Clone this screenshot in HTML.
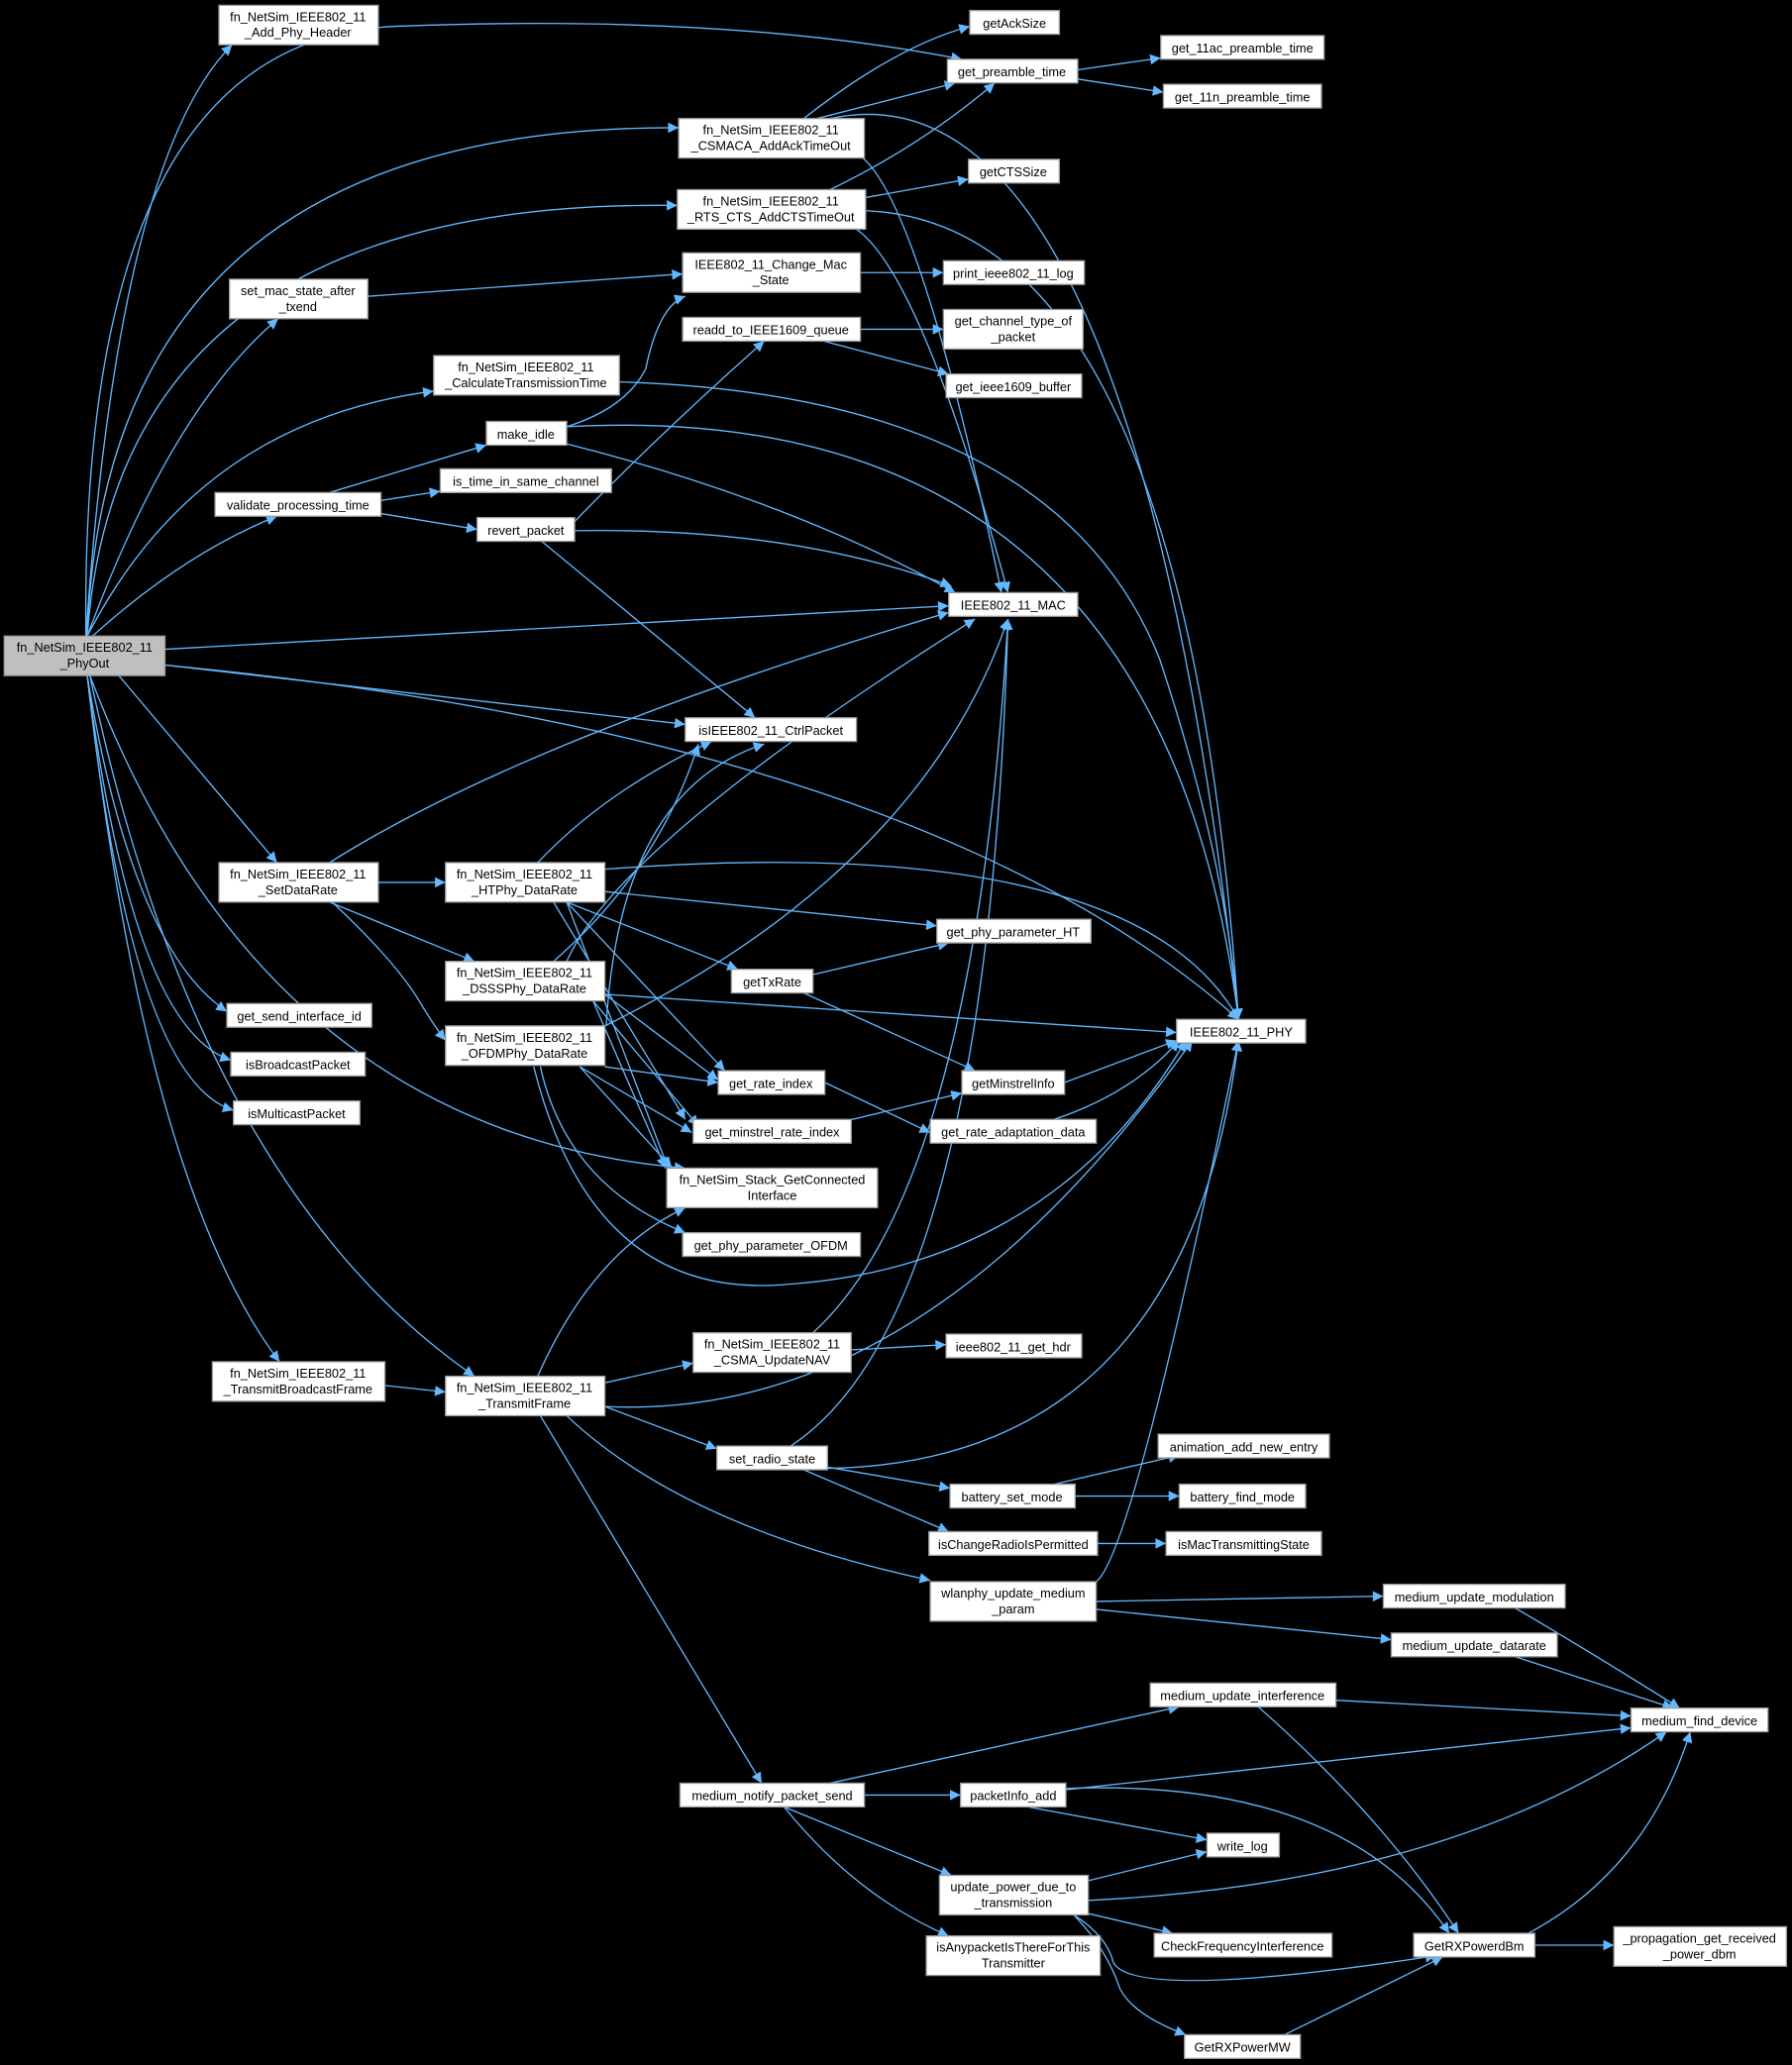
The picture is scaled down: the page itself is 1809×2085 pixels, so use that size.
<!DOCTYPE html>
<html><head><meta charset="utf-8"><style>
html,body{margin:0;padding:0;background:#000;}
svg{display:block}
text{font-family:"Liberation Sans Narrow","Liberation Sans",sans-serif;font-size:9.6px;fill:#000;text-anchor:middle}
.n rect{fill:#fff;stroke:#999;stroke-width:1}
.e path{fill:none;stroke:#63b8ff;stroke-width:1;marker-end:url(#a)}
</style></head><body>
<svg width="1809" height="2085" viewBox="0 0 1360 1568" xmlns="http://www.w3.org/2000/svg">
<defs><marker id="a" viewBox="0 0 10 10" refX="10" refY="5" markerWidth="10" markerHeight="8" markerUnits="userSpaceOnUse" orient="auto"><path d="M0,0L10,5L0,10z" fill="#63b8ff"/></marker></defs>
<rect width="1360" height="1568" fill="#000"/>
<g class="e">
<path d="M65,483 Q90,120 176,34"/>
<path d="M65,483 Q60,30 300,20 Q550,10 730,45"/>
<path d="M66,483 Q80,95 515,97"/>
<path d="M66,483 Q90,150 514,156"/>
<path d="M66,483 Q130,310 211,242"/>
<path d="M66,483 Q150,320 329,297"/>
<path d="M70,483 Q140,420 210,392"/>
<path d="M125,493 L720,460"/>
<path d="M125,505 L520,550"/>
<path d="M125,505 Q700,560 940,774"/>
<path d="M90,513 L210,655"/>
<path d="M66,513 Q100,720 172,768"/>
<path d="M66,513 Q100,780 175,805"/>
<path d="M66,513 Q100,820 177,843"/>
<path d="M68,513 Q200,860 520,887"/>
<path d="M66,513 Q110,900 212,1034"/>
<path d="M68,513 Q150,900 360,1045"/>
<path d="M610,90 Q680,35 736,20"/>
<path d="M620,90 L725,63"/>
<path d="M818,53 L881,44"/>
<path d="M818,60 L883,70"/>
<path d="M630,90 Q860,40 940,774"/>
<path d="M655,120 Q700,160 760,450"/>
<path d="M630,144 Q700,110 755,63"/>
<path d="M657,150 L735,136"/>
<path d="M657,160 Q900,170 940,774"/>
<path d="M650,174 Q700,210 765,450"/>
<path d="M279,225 L518,208"/>
<path d="M653,207 L716,207"/>
<path d="M653,250 L716,250"/>
<path d="M625,259 L720,284"/>
<path d="M470,290 Q800,300 880,500 Q930,650 940,774"/>
<path d="M250,374 L369,338"/>
<path d="M289,380 L334,373"/>
<path d="M289,390 L362,402"/>
<path d="M430,324 Q475,310 490,280 Q500,232 520,225"/>
<path d="M430,337 Q600,380 725,450"/>
<path d="M430,324 Q880,300 940,774"/>
<path d="M436,396 Q500,330 580,259"/>
<path d="M436,403 Q600,400 722,445"/>
<path d="M411,411 L573,545"/>
<path d="M287,670 L338,670"/>
<path d="M250,655 Q400,560 720,465"/>
<path d="M250,685 L360,730"/>
<path d="M252,685 Q300,730 318,760 Q330,780 338,790"/>
<path d="M408,655 Q460,600 540,563"/>
<path d="M459,660 Q860,630 940,774"/>
<path d="M459,677 L711,703"/>
<path d="M430,685 L560,736"/>
<path d="M430,685 L550,813"/>
<path d="M430,685 L507,887"/>
<path d="M420,685 L520,850"/>
<path d="M617,740 L720,716"/>
<path d="M610,754 L740,813"/>
<path d="M430,730 Q470,640 740,470"/>
<path d="M420,730 Q500,660 530,565"/>
<path d="M459,755 L893,784"/>
<path d="M459,755 L545,820"/>
<path d="M450,760 L505,887"/>
<path d="M450,760 L530,855"/>
<path d="M459,779 Q700,660 765,470"/>
<path d="M460,779 Q470,600 580,565"/>
<path d="M459,810 L545,822"/>
<path d="M440,810 L510,887"/>
<path d="M440,810 L525,860"/>
<path d="M410,810 Q430,900 520,936"/>
<path d="M405,810 Q450,990 600,975 Q800,960 900,790"/>
<path d="M808,822 L893,790"/>
<path d="M626,822 L706,860"/>
<path d="M626,855 L730,830"/>
<path d="M800,850 Q860,830 895,790"/>
<path d="M292,1052 L338,1057"/>
<path d="M408,1045 Q450,950 520,917"/>
<path d="M459,1050 L526,1035"/>
<path d="M459,1068 Q700,1080 905,790"/>
<path d="M459,1068 L544,1100"/>
<path d="M430,1075 Q520,1160 706,1200"/>
<path d="M410,1075 L578,1354"/>
<path d="M617,1012 Q740,900 765,470"/>
<path d="M646,1025 L718,1021"/>
<path d="M600,1098 Q750,1000 765,470"/>
<path d="M628,1115 Q900,1110 940,790"/>
<path d="M628,1114 L721,1130"/>
<path d="M610,1116 L720,1163"/>
<path d="M800,1127 L895,1105"/>
<path d="M816,1136 L895,1136"/>
<path d="M833,1172 L885,1172"/>
<path d="M832,1201 Q860,1180 940,790"/>
<path d="M832,1216 L1050,1212"/>
<path d="M832,1222 L1056,1245"/>
<path d="M1150,1221 Q1200,1250 1275,1297"/>
<path d="M1150,1258 L1270,1297"/>
<path d="M1014,1291 L1238,1303"/>
<path d="M955,1296 Q1050,1380 1107,1468"/>
<path d="M630,1354 L895,1296"/>
<path d="M656,1363 L729,1363"/>
<path d="M595,1372 L722,1424"/>
<path d="M595,1372 Q650,1440 720,1470"/>
<path d="M809,1359 L1238,1312"/>
<path d="M780,1372 L916,1397"/>
<path d="M809,1358 Q1020,1350 1100,1468"/>
<path d="M826,1428 L916,1406"/>
<path d="M826,1443 Q1100,1430 1265,1315"/>
<path d="M826,1453 L890,1468"/>
<path d="M815,1454 Q840,1470 845,1490 Q860,1520 1090,1485"/>
<path d="M815,1454 Q840,1480 850,1510 Q860,1530 900,1545"/>
<path d="M975,1545 L1095,1486"/>
<path d="M1160,1468 Q1250,1420 1283,1315"/>
<path d="M1165,1477 L1225,1477"/>
</g>
<g class="n">
<rect x="3" y="483" width="122" height="30" style="fill:#bfbfbf"/><text x="64" y="495">fn_NetSim_IEEE802_11</text><text x="64" y="507">_PhyOut</text>
<rect x="166" y="4" width="121" height="30"/><text x="226" y="16">fn_NetSim_IEEE802_11</text><text x="226" y="28">_Add_Phy_Header</text>
<rect x="736" y="8" width="68" height="18"/><text x="770" y="21">getAckSize</text>
<rect x="719" y="45" width="99" height="18"/><text x="768" y="58">get_preamble_time</text>
<rect x="881" y="27" width="124" height="18"/><text x="943" y="40">get_11ac_preamble_time</text>
<rect x="883" y="64" width="120" height="18"/><text x="943" y="77">get_11n_preamble_time</text>
<rect x="515" y="90" width="141" height="30"/><text x="585" y="102">fn_NetSim_IEEE802_11</text><text x="585" y="114">_CSMACA_AddAckTimeOut</text>
<rect x="735" y="121" width="69" height="18"/><text x="769" y="134">getCTSSize</text>
<rect x="514" y="144" width="143" height="30"/><text x="585" y="156">fn_NetSim_IEEE802_11</text><text x="585" y="168">_RTS_CTS_AddCTSTimeOut</text>
<rect x="174" y="212" width="105" height="30"/><text x="226" y="224">set_mac_state_after</text><text x="226" y="236">_txend</text>
<rect x="518" y="192" width="135" height="30"/><text x="585" y="204">IEEE802_11_Change_Mac</text><text x="585" y="216">_State</text>
<rect x="716" y="198" width="107" height="18"/><text x="769" y="211">print_ieee802_11_log</text>
<rect x="518" y="241" width="135" height="18"/><text x="585" y="254">readd_to_IEEE1609_queue</text>
<rect x="716" y="235" width="106" height="30"/><text x="769" y="247">get_channel_type_of</text><text x="769" y="259">_packet</text>
<rect x="718" y="284" width="103" height="18"/><text x="769" y="297">get_ieee1609_buffer</text>
<rect x="329" y="270" width="141" height="30"/><text x="399" y="282">fn_NetSim_IEEE802_11</text><text x="399" y="294">_CalculateTransmissionTime</text>
<rect x="369" y="320" width="61" height="18"/><text x="399" y="333">make_idle</text>
<rect x="334" y="356" width="130" height="18"/><text x="399" y="369">is_time_in_same_channel</text>
<rect x="163" y="374" width="126" height="18"/><text x="226" y="387">validate_processing_time</text>
<rect x="362" y="393" width="74" height="18"/><text x="399" y="406">revert_packet</text>
<rect x="720" y="450" width="98" height="18"/><text x="769" y="463">IEEE802_11_MAC</text>
<rect x="520" y="545" width="130" height="18"/><text x="585" y="558">isIEEE802_11_CtrlPacket</text>
<rect x="166" y="655" width="121" height="30"/><text x="226" y="667">fn_NetSim_IEEE802_11</text><text x="226" y="679">_SetDataRate</text>
<rect x="338" y="655" width="121" height="30"/><text x="398" y="667">fn_NetSim_IEEE802_11</text><text x="398" y="679">_HTPhy_DataRate</text>
<rect x="711" y="698" width="117" height="18"/><text x="769" y="711">get_phy_parameter_HT</text>
<rect x="555" y="736" width="62" height="18"/><text x="586" y="749">getTxRate</text>
<rect x="338" y="730" width="121" height="30"/><text x="398" y="742">fn_NetSim_IEEE802_11</text><text x="398" y="754">_DSSSPhy_DataRate</text>
<rect x="172" y="762" width="110" height="18"/><text x="227" y="775">get_send_interface_id</text>
<rect x="893" y="774" width="98" height="18"/><text x="942" y="787">IEEE802_11_PHY</text>
<rect x="338" y="779" width="121" height="30"/><text x="398" y="791">fn_NetSim_IEEE802_11</text><text x="398" y="803">_OFDMPhy_DataRate</text>
<rect x="175" y="799" width="102" height="18"/><text x="226" y="812">isBroadcastPacket</text>
<rect x="730" y="813" width="78" height="18"/><text x="769" y="826">getMinstrelInfo</text>
<rect x="545" y="813" width="81" height="18"/><text x="585" y="826">get_rate_index</text>
<rect x="177" y="836" width="96" height="18"/><text x="225" y="849">isMulticastPacket</text>
<rect x="526" y="850" width="120" height="18"/><text x="586" y="863">get_minstrel_rate_index</text>
<rect x="706" y="850" width="126" height="18"/><text x="769" y="863">get_rate_adaptation_data</text>
<rect x="506" y="887" width="160" height="30"/><text x="586" y="899">fn_NetSim_Stack_GetConnected</text><text x="586" y="911">Interface</text>
<rect x="518" y="936" width="135" height="18"/><text x="585" y="949">get_phy_parameter_OFDM</text>
<rect x="526" y="1012" width="120" height="30"/><text x="586" y="1024">fn_NetSim_IEEE802_11</text><text x="586" y="1036">_CSMA_UpdateNAV</text>
<rect x="718" y="1013" width="103" height="18"/><text x="769" y="1026">ieee802_11_get_hdr</text>
<rect x="161" y="1034" width="131" height="30"/><text x="226" y="1046">fn_NetSim_IEEE802_11</text><text x="226" y="1058">_TransmitBroadcastFrame</text>
<rect x="338" y="1045" width="121" height="30"/><text x="398" y="1057">fn_NetSim_IEEE802_11</text><text x="398" y="1069">_TransmitFrame</text>
<rect x="879" y="1089" width="130" height="18"/><text x="944" y="1102">animation_add_new_entry</text>
<rect x="544" y="1098" width="84" height="18"/><text x="586" y="1111">set_radio_state</text>
<rect x="721" y="1127" width="95" height="18"/><text x="768" y="1140">battery_set_mode</text>
<rect x="895" y="1127" width="96" height="18"/><text x="943" y="1140">battery_find_mode</text>
<rect x="705" y="1163" width="128" height="18"/><text x="769" y="1176">isChangeRadioIsPermitted</text>
<rect x="885" y="1163" width="118" height="18"/><text x="944" y="1176">isMacTransmittingState</text>
<rect x="706" y="1201" width="126" height="30"/><text x="769" y="1213">wlanphy_update_medium</text><text x="769" y="1225">_param</text>
<rect x="1050" y="1203" width="138" height="18"/><text x="1119" y="1216">medium_update_modulation</text>
<rect x="1056" y="1240" width="126" height="18"/><text x="1119" y="1253">medium_update_datarate</text>
<rect x="873" y="1278" width="141" height="18"/><text x="943" y="1291">medium_update_interference</text>
<rect x="1238" y="1297" width="104" height="18"/><text x="1290" y="1310">medium_find_device</text>
<rect x="516" y="1354" width="140" height="18"/><text x="586" y="1367">medium_notify_packet_send</text>
<rect x="729" y="1354" width="80" height="18"/><text x="769" y="1367">packetInfo_add</text>
<rect x="916" y="1392" width="55" height="18"/><text x="943" y="1405">write_log</text>
<rect x="713" y="1424" width="113" height="30"/><text x="769" y="1436">update_power_due_to</text><text x="769" y="1448">_transmission</text>
<rect x="876" y="1468" width="135" height="18"/><text x="943" y="1481">CheckFrequencyInterference</text>
<rect x="1073" y="1468" width="92" height="18"/><text x="1119" y="1481">GetRXPowerdBm</text>
<rect x="1225" y="1463" width="131" height="30"/><text x="1290" y="1475">_propagation_get_received</text><text x="1290" y="1487">_power_dbm</text>
<rect x="703" y="1470" width="132" height="30"/><text x="769" y="1482">isAnypacketIsThereForThis</text><text x="769" y="1494">Transmitter</text>
<rect x="899" y="1545" width="88" height="18"/><text x="943" y="1558">GetRXPowerMW</text>
</g>
</svg>
</body></html>
